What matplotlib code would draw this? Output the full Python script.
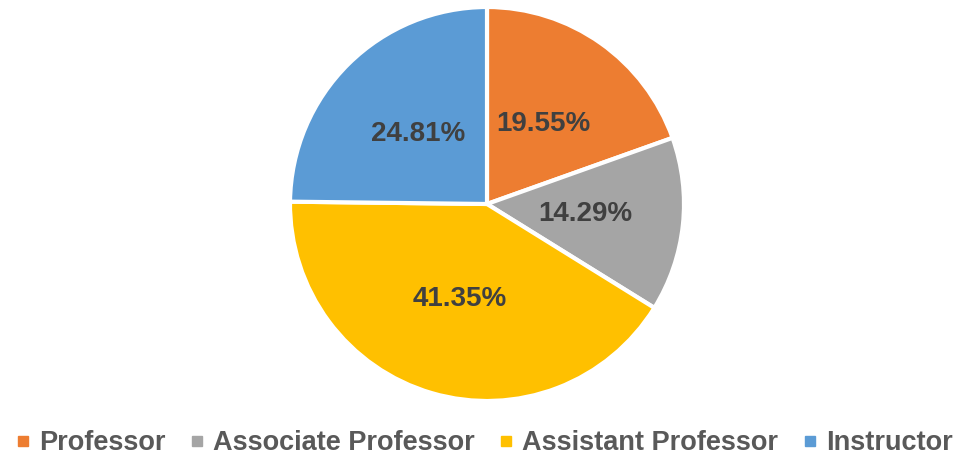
import matplotlib.pyplot as plt
from matplotlib.lines import Line2D

labels = ['Professor', 'Associate Professor', 'Assistant Professor', 'Instructor']
shares = [19.55, 14.29, 41.35, 24.81]
colors = ['#ED7D31', '#A5A5A5', '#FFC000', '#5B9BD5']

plt.rcParams['font.family'] = ['Liberation Sans', 'DejaVu Sans']

W, H = 969, 459
fig = plt.figure(figsize=(W / 100, H / 100), dpi=100)

# pie centred at (487, 204) px, radius ~197 px
cx, cy, r = 487, 204, 197
ax = fig.add_axes([(cx - r) / W, 1 - (cy + r) / H, 2 * r / W, 2 * r / H])

wedges, texts, autotexts = ax.pie(
    shares, colors=colors, startangle=90, counterclock=False,
    autopct=lambda p: '', pctdistance=0.5,
    wedgeprops=dict(edgecolor='white', linewidth=3))

for w, t, v in zip(wedges, autotexts, shares):
    t.set_text('{:.2f}%'.format(v))
    t.set_fontsize(20)
    t.set_fontweight('bold')
    t.set_color('#404040')

ax.set_xlim(-1, 1)
ax.set_ylim(-1, 1)
ax.set_aspect('equal')
ax.axis('off')

handles = [Line2D([], [], marker='s', linestyle='none', markersize=7,
                  markerfacecolor=c, markeredgecolor=c) for c in colors]
leg = fig.legend(handles, labels, loc='center', bbox_to_anchor=(0.5, 1 - 443 / H),
                 ncol=4, frameon=False, fontsize=19.5, labelcolor='#595959',
                 handlelength=0.5, handletextpad=0.35, columnspacing=0.9,
                 borderaxespad=0)
for t in leg.get_texts():
    t.set_fontweight('bold')

fig.savefig('out.png', dpi=100)
